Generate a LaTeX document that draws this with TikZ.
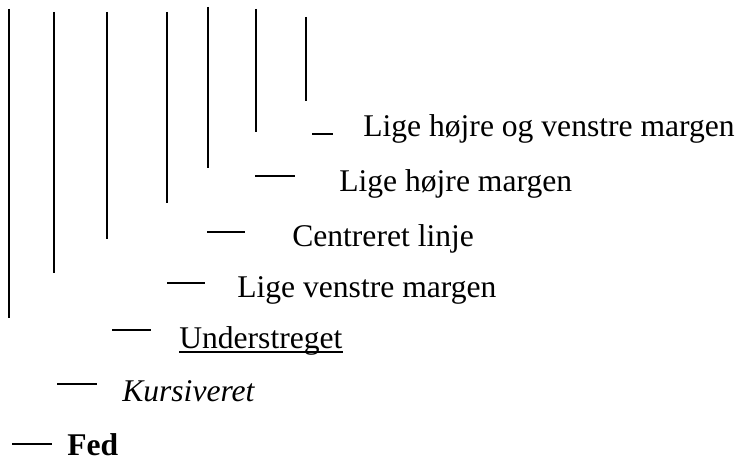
\documentclass[tikz,border=0pt]{standalone}
\usepackage{fontspec}
\setmainfont{Liberation Serif}
\usetikzlibrary{calc}

\begin{document}
\begin{tikzpicture}[x=0.75pt,y=-0.75pt,
  lbl/.style={anchor=base west,inner sep=0pt,font=\fontsize{23.7}{28}\selectfont},
  bar/.style={line width=1.5pt},
  tick/.style={line width=1.5pt},
  uline/.style={line width=1.1pt}]
\useasboundingbox (0,0) rectangle (742,459);
% labels
\node[lbl] (lbBegge) at (363,137) {Lige højre og venstre margen};
\node[lbl] (lbHojre) at (339,192) {Lige højre margen};
\node[lbl] (lbCenter) at (292,247) {Centreret linje};
\node[lbl] (lbVenstre) at (237,298) {Lige venstre margen};
\node[lbl] (lbUnder) at (179,349) {Understreget};
\node[lbl] (lbKurs) at (122,402) {\itshape Kursiveret};
\node[lbl] (lbFed) at (67,455) {\bfseries Fed};
\draw[uline] ($(lbUnder.base west)+(0,3)$) -- ($(lbUnder.base east)+(0,3)$);
% short ticks in front of the labels
\draw[tick] ($(lbBegge.base west)+(-51,-3)$) -- ++(21,0);
\draw[tick] ($(lbHojre.base west)+(-84,-16)$) -- ++(40,0);
\draw[tick] ($(lbCenter.base west)+(-85,-15)$) -- ++(38,0);
\draw[tick] ($(lbVenstre.base west)+(-70,-15)$) -- ++(38,0);
\draw[tick] ($(lbUnder.base west)+(-67,-19)$) -- ++(39,0);
\draw[tick] ($(lbKurs.base west)+(-65,-18)$) -- ++(40,0);
\draw[tick] ($(lbFed.base west)+(-55,-11)$) -- ++(40,0);
% vertical bars
\foreach \x/\t/\b in {9/9/318, 54/12/273, 107/12/239, 167/12/203,
                      208/7/168, 256/9/132, 306/17/101}
  \draw[bar] (\x,\t) -- (\x,\b);
\end{tikzpicture}
\end{document}
